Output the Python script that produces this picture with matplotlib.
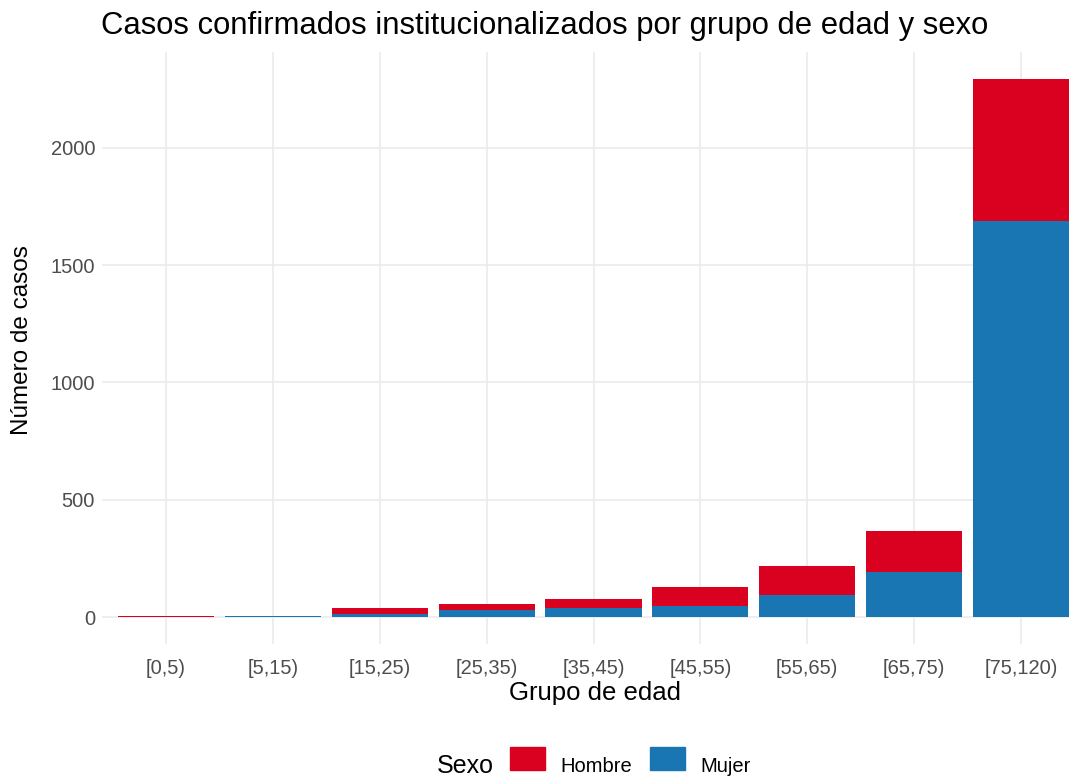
import matplotlib.pyplot as plt
import numpy as np
from matplotlib.patches import Rectangle

plt.rcParams['font.family'] = ['Liberation Sans', 'DejaVu Sans']

# Data
grupos = ["[0,5)", "[5,15)", "[15,25)", "[25,35)", "[35,45)",
          "[45,55)", "[55,65)", "[65,75)", "[75,120)"]
mujer = [0, 5, 13, 30, 38, 47, 95, 193, 1686]
hombre = [6, 0, 25, 26, 40, 81, 123, 172, 607]

ROJO = "#DA0020"
AZUL = "#1A76B2"
W, H = 1069, 778

fig = plt.figure(figsize=(W / 100, H / 100), dpi=100)
ax = fig.add_axes([102 / W, 1 - 644 / H, (1085 - 102) / W, (644 - 52) / H])

x = np.arange(len(grupos))
mujer = np.array(mujer)
hombre = np.array(hombre)
total = mujer + hombre

ax.bar(x, mujer, width=0.9, color=AZUL, zorder=3)
ax.bar(x, hombre, width=0.9, bottom=mujer, color=ROJO, zorder=3)

ymax = total.max()
ax.set_xlim(-0.6, len(grupos) - 0.4)
ax.set_ylim(-0.05 * ymax, 1.05 * ymax)
ax.set_yticks([0, 500, 1000, 1500, 2000])
ax.set_xticks(x)
ax.set_xticklabels(grupos)

ax.grid(True, color="#EBEBEB", linewidth=1.2, zorder=0)
ax.set_axisbelow(True)
for s in ax.spines.values():
    s.set_visible(False)
ax.tick_params(length=0, labelsize=14.5, colors="#4D4D4D")
ax.tick_params(axis="y", pad=5)
ax.tick_params(axis="x", pad=11)

fig.text(101 / W, 1 - 26 / H, "Casos confirmados institucionalizados por grupo de edad y sexo",
         fontsize=22.3, ha="left", va="center", color="black")
fig.text(22 / W, 1 - 340 / H, "Número de casos", rotation=90,
         fontsize=17.5, ha="center", va="center")
fig.text(595 / W, 1 - 693 / H, "Grupo de edad",
         fontsize=18.5, ha="center", va="center")

# Legend, drawn by hand so keys sit where they are in the reference
fig.text(465 / W, 1 - 766 / H, "Sexo", fontsize=18, ha="center", va="center")
leyenda = [("Hombre", ROJO, 510), ("Mujer", AZUL, 650)]
for nombre, color, x0 in leyenda:
    fig.patches.append(Rectangle((x0 / W, 1 - 770 / H), 35 / W, 23 / H,
                                 color=color, transform=fig.transFigure, figure=fig))
    fig.text((x0 + 50) / W, 1 - 766 / H, nombre, fontsize=14.5,
             ha="left", va="center", color="black")

fig.savefig("out.png", dpi=100)
